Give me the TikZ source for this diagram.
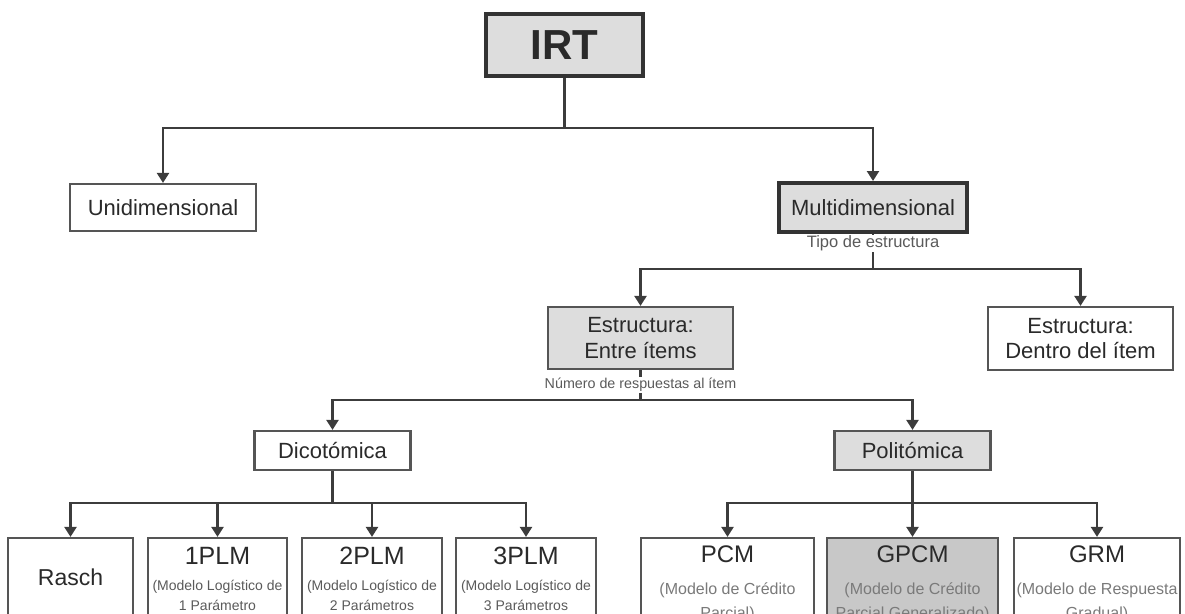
\documentclass[tikz,border=0pt]{standalone}
\usepackage{fontspec}
\setmainfont{Liberation Sans}
\usetikzlibrary{arrows.meta}

\definecolor{linecol}{HTML}{3C3C3C}
\definecolor{boxline}{HTML}{555555}
\definecolor{darkline}{HTML}{333333}
\definecolor{lightfill}{HTML}{DDDDDD}
\definecolor{midfill}{HTML}{C8C8C8}
\definecolor{txt}{HTML}{2A2A2A}
\definecolor{subtxt}{HTML}{5A5A5A}
\definecolor{paletxt}{HTML}{7A7A7A}

\newcommand{\fs}[1]{\fontsize{#1}{#1}\selectfont}

\tikzset{
  box/.style={draw=boxline, line width=2.2pt, fill=white, inner sep=0pt,
              text=txt, align=center, font=\fontsize{22}{25.5}\selectfont},
  keybox/.style={box, fill=lightfill, draw=darkline, line width=4pt},
  shadebox/.style={box, fill=lightfill},
  conn/.style={draw=linecol, line width=2.3pt},
  arr/.style={conn, -{Triangle[width=12pt,length=10pt]}},
  note/.style={fill=white, inner sep=1pt, text=subtxt},
  head/.style={anchor=base, text=txt, font=\fs{25}},
  subline/.style={anchor=base, text=subtxt, font=\fs{14}},
  paleline/.style={anchor=base, text=paletxt, font=\fs{16}},
}

\begin{document}
\begin{tikzpicture}[x=1pt, y=-1pt]
  \useasboundingbox (0,0) rectangle (1185,613);
  \clip (0,0) rectangle (1185,613);

  % upper levels
  \node[keybox, minimum width=157, minimum height=62, font=\bfseries\fs{42}]
    (irt) at (564.5,45) {IRT};
  \node[box, minimum width=186, minimum height=47] (uni) at (163,207.5) {Unidimensional};
  \node[keybox, minimum width=188, minimum height=49] (multi) at (873,207.5) {Multidimensional};
  \node[shadebox, minimum width=185, minimum height=62] (entre) at (640.5,338)
    {Estructura:\\Entre ítems};
  \node[box, minimum width=185, minimum height=63] (dentro) at (1080.5,338.5)
    {Estructura:\\Dentro del ítem};
  \node[box, minimum width=156, minimum height=39] (dico) at (332.5,450.5) {Dicotómica};
  \node[shadebox, minimum width=156, minimum height=39] (poli) at (912.5,450.5) {Politómica};

  % bottom row (boxes run past the lower edge)
  \node[box, minimum width=125, minimum height=112] (rasch) at (70.5,594) {};
  \node[box, minimum width=139, minimum height=112] (p1) at (217.5,594) {};
  \node[box, minimum width=140, minimum height=112] (p2) at (372,594) {};
  \node[box, minimum width=140, minimum height=112] (p3) at (526,594) {};
  \node[box, minimum width=173, minimum height=112] (pcm) at (727.5,594) {};
  \node[box, fill=midfill, minimum width=171, minimum height=112] (gpcm) at (912.5,594) {};
  \node[box, minimum width=166, minimum height=112] (grm) at (1097,594) {};

  % bus junctions
  \coordinate (b1) at (564.5,128);
  \coordinate (b2) at (873,269);
  \coordinate (b3) at (640.5,400);
  \coordinate (b4) at (332.5,503);
  \coordinate (b5) at (912.5,503);

  % connectors
  \draw[conn] (irt.south) -- (b1);
  \draw[arr] (b1) -| (uni.north);
  \draw[arr] (b1) -| (multi.north);

  \draw[conn] (multi.south) -- (b2);
  \draw[arr] (b2) -| (entre.north);
  \draw[arr] (b2) -| (dentro.north);

  \draw[conn] (entre.south) -- (b3);
  \draw[arr] (b3) -| (dico.north);
  \draw[arr] (b3) -| (poli.north);

  \draw[conn] (dico.south) -- (b4);
  \draw[arr] (b4) -| (rasch.north);
  \draw[arr] (b4) -| (p1.north);
  \draw[arr] (b4) -| (p2.north);
  \draw[arr] (b4) -| (p3.north);

  \draw[conn] (poli.south) -- (b5);
  \draw[arr] (b5) -| (pcm.north);
  \draw[arr] (b5) -| (gpcm.north);
  \draw[arr] (b5) -| (grm.north);

  % criteria labels under the branching boxes
  \node[note, font=\fs{16.5}] (tipo) at (873,243.5) {Tipo de estructura};
  \node[note, font=\fs{14.3}] (num) at (640.5,385) {Número de respuestas al ítem};

  % texts of the dichotomous models
  \node[anchor=center, text=txt, font=\fs{23}] (raschT) at (70.5,577) {Rasch};

  \node[head] (p1h) at (217.5,564) {1PLM};
  \node[subline] (p1a) at (217.5,590) {(Modelo Logístico de};
  \node[subline] (p1b) at (217.5,610) {1 Parámetro};

  \node[head] (p2h) at (372,564) {2PLM};
  \node[subline] (p2a) at (372,590) {(Modelo Logístico de};
  \node[subline] (p2b) at (372,610) {2 Parámetros};

  \node[head] (p3h) at (526,564) {3PLM};
  \node[subline] (p3a) at (526,590) {(Modelo Logístico de};
  \node[subline] (p3b) at (526,610) {3 Parámetros};

  % texts of the polytomous models
  \node[head, font=\fs{24}] (pcmh) at (727.5,562) {PCM};
  \node[paleline] (pcma) at (727.5,594) {(Modelo de Crédito};
  \node[paleline] (pcmb) at (727.5,618) {Parcial)};

  \node[head, font=\fs{24}] (gpcmh) at (912.5,562) {GPCM};
  \node[paleline] (gpcma) at (912.5,594) {(Modelo de Crédito};
  \node[paleline] (gpcmb) at (912.5,618) {Parcial Generalizado)};

  \node[head, font=\fs{24}] (grmh) at (1097,562) {GRM};
  \node[paleline] (grma) at (1097,594) {(Modelo de Respuesta};
  \node[paleline] (grmb) at (1097,618) {Gradual)};
\end{tikzpicture}
\end{document}
